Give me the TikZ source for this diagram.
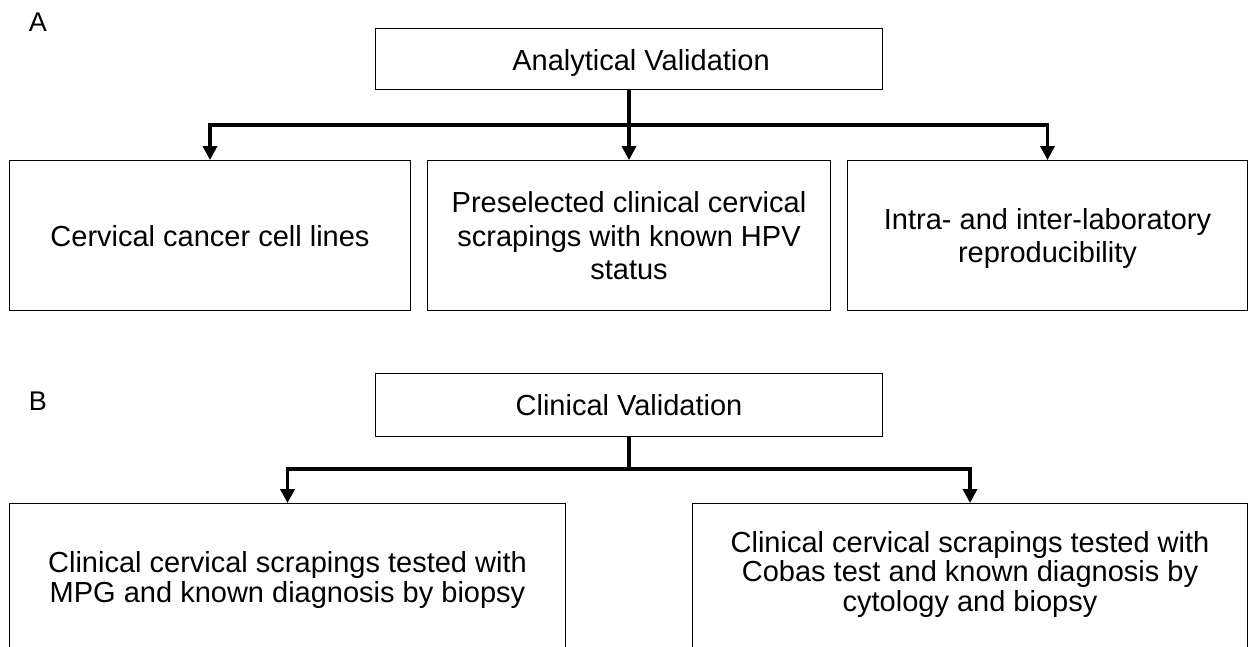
\documentclass[tikz,border=0pt]{standalone}
\usepackage{fontspec}
\setmainfont{Liberation Sans}
\usetikzlibrary{arrows.meta}
\begin{document}
\begin{tikzpicture}[x=1pt,y=-1pt,
  boxA/.style={draw, line width=1.4pt, inner sep=0pt, align=center, text depth=0pt, font=\fontsize{29}{33.5}\selectfont},
  boxB/.style={boxA, font=\fontsize{29}{29.5}\selectfont},
  txtA/.style={inner sep=0pt, align=center, text depth=0pt, font=\fontsize{29}{33.5}\selectfont},
  txtB/.style={txtA, font=\fontsize{29}{29.5}\selectfont},
  link/.style={line width=3.4pt, line join=miter},
  arr/.style={link, -{Triangle[width=14pt,length=14pt]}},
  panel/.style={font=\fontsize{27}{27}\selectfont, inner sep=0pt, text depth=0pt}]
\useasboundingbox (0,0) rectangle (1249,647);
\fill[white] (0,0) rectangle (1249,647);
\clip (0,0) rectangle (1249,647);

% Panel A
\node[panel] (lA) at (38,22) {A};
\node[boxA, minimum width=506.5pt, minimum height=60.5pt] (tA) at (629,59) {};
\node[txtA] (tAt) at (641,59.5) {Analytical Validation};
\node[boxA, minimum width=400.5pt, minimum height=149.5pt] (b1) at (210,235.5) {Cervical cancer cell lines};
\node[boxA, minimum width=402.5pt, minimum height=149.5pt] (b2) at (629,235.5) {Preselected clinical cervical\\scrapings with known HPV\\status};
\node[boxA, minimum width=399.5pt, minimum height=149.5pt] (b3) at (1047.5,235.5) {Intra- and inter-laboratory\\reproducibility};

\coordinate (jA) at (629,125);
\draw[link] (tA.south) -- (jA);
\draw[arr] (jA) -- (b2.north);
\draw[arr] (jA) -| (b1.north);
\draw[arr] (jA) -| (b3.north);

% Panel B
\node[panel] (lB) at (38,401) {B};
\node[boxA, minimum width=506.5pt, minimum height=62.5pt] (tB) at (629,405) {Clinical Validation};
\node[boxB, minimum width=555.5pt, minimum height=150.5pt] (b4) at (287.5,579) {};
\node[txtB] (b4t) at (287.5,577) {Clinical cervical scrapings tested with\\MPG and known diagnosis by biopsy};
\node[boxB, minimum width=554.5pt, minimum height=150.5pt] (b5) at (970,579) {};
\node[txtB] (b5t) at (970,571) {Clinical cervical scrapings tested with\\Cobas test and known diagnosis by\\cytology and biopsy};

\coordinate (jB) at (629,469);
\draw[link] (tB.south) -- (jB);
\draw[arr] (jB) -| (b4.north);
\draw[arr] (jB) -| (b5.north);
\end{tikzpicture}
\end{document}
